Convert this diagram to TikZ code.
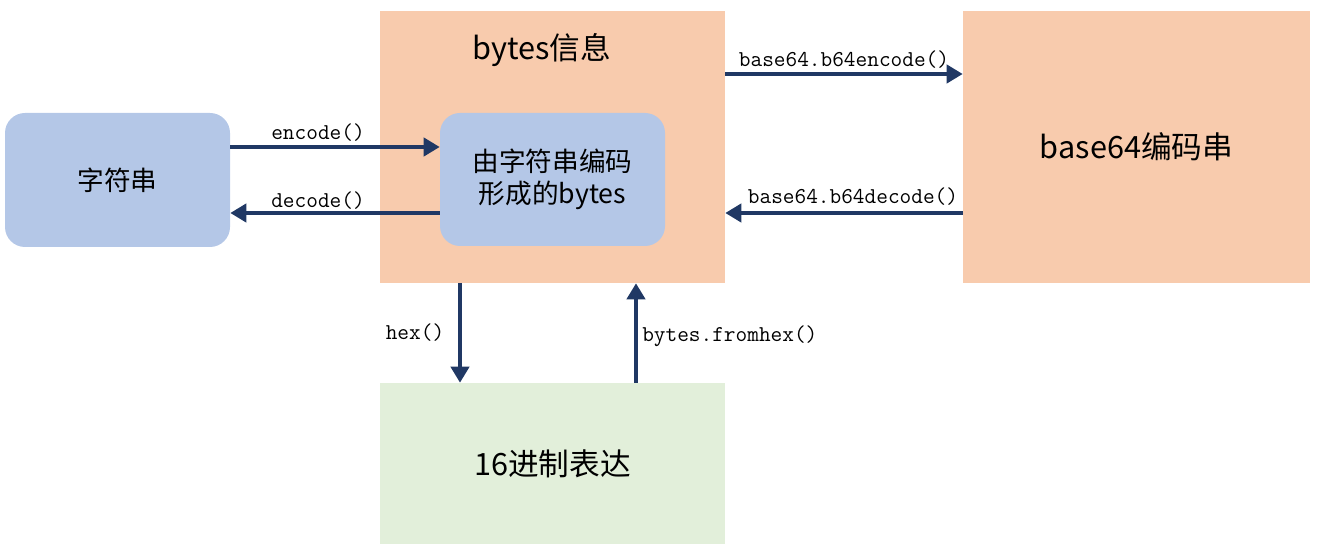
\documentclass[tikz,border=0pt]{standalone}
\usepackage{fontspec}
\setmainfont{Noto Sans CJK SC}
\usetikzlibrary{arrows.meta}
\definecolor{peach}{HTML}{F8CBAD}
\definecolor{lblue}{HTML}{B4C7E7}
\definecolor{lgreen}{HTML}{E2EFDA}
\definecolor{navy}{HTML}{203864}
\tikzset{
  box/.style={draw=none, inner sep=0pt, text=black},
  rbox/.style={box, fill=lblue, rounded corners=15pt},
  big/.style={font=\fontsize{23}{27}\selectfont},
  mid/.style={font=\fontsize{20}{24}\selectfont},
  lbl/.style={font=\ttfamily\fontsize{17}{20}\selectfont, inner sep=0pt},
  arr/.style={draw=navy, line width=3.5pt, -{Triangle[length=12pt,width=13.5pt]}}
}
\begin{document}
\begin{tikzpicture}[x=0.75pt,y=-0.75pt]
\useasboundingbox (0,0) rectangle (1318,552);
% boxes
\node[rbox, minimum width=168.75pt, minimum height=100.5pt, mid] (str) at (117.5,180) {字符串};
\node[box, fill=peach, minimum width=258.75pt, minimum height=204pt] (bytes) at (552.5,147) {};
\node[big] (title) at (542,50) {bytes信息};
\node[rbox, minimum width=168.75pt, minimum height=99.75pt, mid, align=center] (inner) at (552.5,179.5) {由字符串编码\\形成的bytes};
\node[box, fill=peach, minimum width=260.25pt, minimum height=204pt, big] (b64) at (1136.5,147) {base64编码串};
\node[box, fill=lgreen, minimum width=258.75pt, minimum height=120.75pt, big] (hexb) at (552.5,463.5) {16进制表达};
% helper coordinates
\coordinate (yenc) at (0,147);
\coordinate (ydec) at (0,213);
\coordinate (ybe) at (0,74);
\coordinate (ybd) at (0,213);
\coordinate (xhex) at (460,0);
\coordinate (xfh) at (636,0);
% arrows
\draw[arr] (str.east |- yenc) -- (inner.west |- yenc);
\draw[arr] (inner.west |- ydec) -- (str.east |- ydec);
\draw[arr] (bytes.east |- ybe) -- (b64.west |- ybe);
\draw[arr] (b64.west |- ybd) -- (bytes.east |- ybd);
\draw[arr] (xhex |- bytes.south) -- (xhex |- hexb.north);
\draw[arr] (xfh |- hexb.north) -- (xfh |- bytes.south);
% labels
\node[lbl] (lenc) at (318,133) {encode()};
\node[lbl] (ldec) at (318,201) {decode()};
\node[lbl] (lbe) at (844,60) {base64.b64encode()};
\node[lbl] (lbd) at (853,197) {base64.b64decode()};
\node[lbl] (lhex) at (415,333) {hex()};
\node[lbl, anchor=west] (lfh) at (642,336) {bytes.fromhex()};
\end{tikzpicture}
\end{document}
